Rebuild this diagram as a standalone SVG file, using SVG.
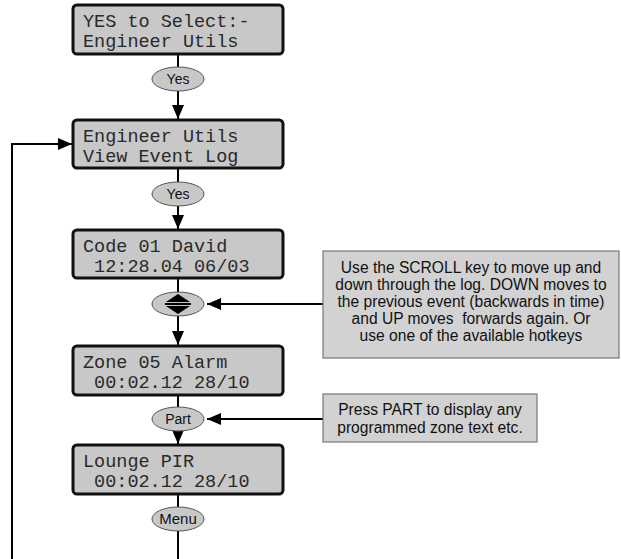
<svg xmlns="http://www.w3.org/2000/svg" width="621" height="559" viewBox="0 0 621 559">
<defs>
<style>
.lcd rect{fill:#c8c8c8;stroke:#111;stroke-width:3}
.lcd text{font-family:"Liberation Mono","DejaVu Sans Mono",monospace;font-size:18.5px;fill:#2a2a2a;white-space:pre}
.btn ellipse{fill:#c8c8c8;stroke:#555;stroke-width:1}
.btn text{font-family:"Liberation Sans",Arial,sans-serif;font-size:14px;fill:#111;text-anchor:middle}
.note rect{fill:#d2d2d2;stroke:#777;stroke-width:1.2}
.note text{font-family:"Liberation Sans",Arial,sans-serif;font-size:15.6px;fill:#111;text-anchor:middle;white-space:pre}
.conn line,.conn polyline{stroke:#000;stroke-width:2;fill:none}
</style>
<marker id="ah" markerUnits="userSpaceOnUse" markerWidth="14" markerHeight="12" refX="14" refY="6" orient="auto">
<path d="M0,0 L14,6 L0,12 z" fill="#000"/>
</marker>
</defs>
<rect width="621" height="559" fill="#fff"/>
<g id="connectors" class="conn">
<line x1="178" y1="54" x2="178" y2="67"/>
<line x1="178" y1="91" x2="178" y2="119" marker-end="url(#ah)"/>
<line x1="178" y1="168" x2="178" y2="182"/>
<line x1="178" y1="206" x2="178" y2="229" marker-end="url(#ah)"/>
<line x1="178" y1="278" x2="178" y2="292"/>
<line x1="178" y1="316" x2="178" y2="345" marker-end="url(#ah)"/>
<line x1="178" y1="395" x2="178" y2="407"/>
<line x1="178" y1="431" x2="178" y2="444" marker-end="url(#ah)"/>
<line x1="178" y1="494" x2="178" y2="507"/>
<line x1="178" y1="531" x2="178" y2="559"/>
<polyline points="12,559 12,144 72,144" marker-end="url(#ah)"/>
<line x1="323" y1="304" x2="207" y2="304" marker-end="url(#ah)"/>
<line x1="323" y1="419" x2="207" y2="419" marker-end="url(#ah)"/>
</g>
<g id="lcd1" class="lcd"><rect x="73" y="5" width="210" height="49" rx="4"/><text x="83" y="27">YES to Select:-</text><text x="83" y="47">Engineer Utils</text></g>
<g id="btn-yes1" class="btn"><ellipse cx="178" cy="79" rx="26" ry="12"/><text x="178" y="84">Yes</text></g>
<g id="lcd2" class="lcd"><rect x="73" y="120" width="210" height="48" rx="4"/><text x="83" y="142">Engineer Utils</text><text x="83" y="162">View Event Log</text></g>
<g id="btn-yes2" class="btn"><ellipse cx="178" cy="194" rx="26" ry="12"/><text x="178" y="199">Yes</text></g>
<g id="lcd3" class="lcd"><rect x="73" y="230" width="210" height="48" rx="4"/><text x="83" y="252">Code 01 David</text><text x="83" y="272" xml:space="preserve"> 12:28.04 06/03</text></g>
<g id="btn-scroll" class="btn"><ellipse cx="178" cy="304" rx="26" ry="12"/>
<path d="M178,294 L166,302 L190,302 z" fill="#000"/><rect x="165" y="303" width="26" height="2" fill="#000"/><path d="M166,306 L190,306 L178,314 z" fill="#000"/></g>
<g id="lcd4" class="lcd"><rect x="73" y="346" width="210" height="49" rx="4"/><text x="83" y="368">Zone 05 Alarm</text><text x="83" y="388" xml:space="preserve"> 00:02.12 28/10</text></g>
<g id="btn-part" class="btn"><ellipse cx="178" cy="419" rx="26" ry="12"/><text x="178" y="424">Part</text></g>
<g id="lcd5" class="lcd"><rect x="73" y="445" width="210" height="49" rx="4"/><text x="83" y="467">Lounge PIR</text><text x="83" y="487" xml:space="preserve"> 00:02.12 28/10</text></g>
<g id="btn-menu" class="btn"><ellipse cx="178" cy="519" rx="26" ry="12"/><text x="178" y="524" style="font-size:15px">Menu</text></g>
<g id="note-scroll" class="note"><rect x="323" y="251" width="296" height="107"/>
<text x="471" y="273">Use the SCROLL key to move up and</text>
<text x="471" y="290">down through the log. DOWN moves to</text>
<text x="471" y="307">the previous event (backwards in time)</text>
<text x="471" y="324" xml:space="preserve">and UP moves  forwards again. Or</text>
<text x="471" y="341">use one of the available hotkeys</text></g>
<g id="note-part" class="note"><rect x="323" y="394" width="214" height="48"/>
<text x="430" y="415">Press PART to display any</text>
<text x="430" y="433">programmed zone text etc.</text></g>
</svg>
